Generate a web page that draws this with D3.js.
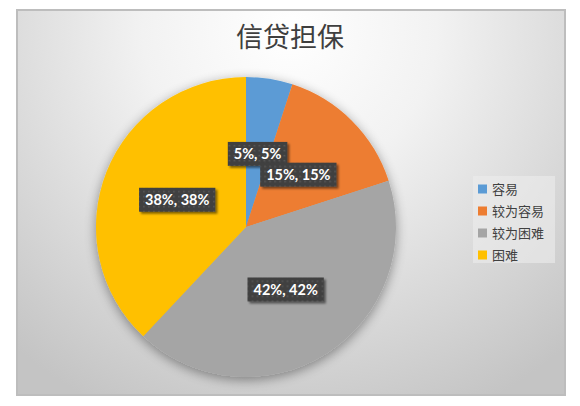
<!DOCTYPE html>
<html><head><meta charset="utf-8">
<script src="https://cdn.jsdelivr.net/npm/d3@7"></script>
<style>html,body{margin:0;padding:0;background:#fff;}svg{display:block;}</style>
</head><body>
<svg id="c" width="580" height="406"></svg>
<script>
const title = "信贷担保";
const categories = ["容易", "较为容易", "较为困难", "困难"];
const values = [5, 15, 42, 38];
const colors = ["#5B9BD5", "#ED7D31", "#A5A5A5", "#FFC000"];

const svg = d3.select("#c");
const defs = svg.append("defs");

const bg = defs.append("radialGradient").attr("id","bg")
  .attr("gradientUnits","userSpaceOnUse").attr("cx",290).attr("cy",30).attr("r",420);
bg.append("stop").attr("offset","0").attr("stop-color","#ffffff");
bg.append("stop").attr("offset","0.35").attr("stop-color","#f2f2f2");
bg.append("stop").attr("offset","1").attr("stop-color","#c4c4c4");

const pieSh = defs.append("filter").attr("id","pieSh").attr("x","-20%").attr("y","-20%").attr("width","140%").attr("height","140%");
pieSh.append("feGaussianBlur").attr("in","SourceAlpha").attr("stdDeviation",6).attr("result","b");
pieSh.append("feOffset").attr("in","b").attr("dx",0).attr("dy",3).attr("result","o");
pieSh.append("feComponentTransfer").attr("in","o").attr("result","o2")
  .append("feFuncA").attr("type","linear").attr("slope",0.4);
const pm = pieSh.append("feMerge");
pm.append("feMergeNode").attr("in","o2");
pm.append("feMergeNode").attr("in","SourceGraphic");

const lblSh = defs.append("filter").attr("id","lblSh").attr("x","-20%").attr("y","-30%").attr("width","150%").attr("height","180%");
lblSh.append("feGaussianBlur").attr("in","SourceAlpha").attr("stdDeviation",1.2).attr("result","b");
lblSh.append("feOffset").attr("in","b").attr("dx",2).attr("dy",2).attr("result","o");
lblSh.append("feComponentTransfer").attr("in","o").attr("result","o2")
  .append("feFuncA").attr("type","linear").attr("slope",0.5);
const lm = lblSh.append("feMerge");
lm.append("feMergeNode").attr("in","o2");
lm.append("feMergeNode").attr("in","SourceGraphic");

const pat = defs.append("pattern").attr("id","dots").attr("patternUnits","userSpaceOnUse")
  .attr("width",5).attr("height",5);
pat.append("rect").attr("width",5).attr("height",5).attr("fill","#404040");
pat.append("rect").attr("x",1).attr("y",1).attr("width",1.5).attr("height",1.5).attr("fill","#5a5a5a");

// frame
svg.append("rect").attr("x",17).attr("y",10).attr("width",548).attr("height",385)
  .attr("fill","url(#bg)").attr("stroke","#bdbdbd").attr("stroke-width",2);

// title
svg.append("text").attr("x",290).attr("y",47).attr("text-anchor","middle")
  .attr("font-family","'Noto Sans CJK SC', sans-serif").attr("font-size",27)
  .attr("fill","#3f3f3f").text(title);

// pie
const cx = 246, cy = 227, R = 150;
const data = categories.map((c,i)=>({cat:c, value:values[i], color:colors[i]}));
const pie = d3.pie().value(d=>d.value).sort(null);
const arcs = pie(data);
const arc = d3.arc().innerRadius(0).outerRadius(R);
const g = svg.append("g").attr("transform",`translate(${cx},${cy})`);
g.append("g").attr("filter","url(#pieSh)").selectAll("path").data(arcs).join("path")
  .attr("d",arc).attr("fill",d=>d.data.color);

const total = d3.sum(values);
const lblArc = d3.arc().innerRadius(74).outerRadius(74);
const lg = g.append("g");
arcs.forEach(a=>{
  const [x,y] = lblArc.centroid(a);
  const pct = Math.round(a.data.value/total*100) + "%";
  const grp = lg.append("g").attr("transform",`translate(${x},${y})`);
  const rect = grp.append("rect").attr("fill","url(#dots)").attr("filter","url(#lblSh)");
  const t = grp.append("text").attr("text-anchor","middle").attr("dy","0.36em")
    .attr("font-family","Lato, 'Open Sans', sans-serif").attr("font-weight","bold")
    .attr("font-size",14.5).attr("fill","#ffffff")
    .text(`${pct}, ${a.data.value}%`);
  const w = t.node().getComputedTextLength();
  rect.attr("x",-w/2-6).attr("y",-12).attr("width",w+12).attr("height",24);
});

// legend
const legX = 473, legY = 176;
svg.append("rect").attr("x",legX).attr("y",legY).attr("width",82).attr("height",87)
  .attr("fill","#ececec").attr("opacity",0.6);
const leg = svg.append("g");
data.forEach((d,i)=>{
  const y = 189 + i*22;
  leg.append("rect").attr("x",478).attr("y",y-4.5).attr("width",9).attr("height",9).attr("fill",d.color);
  leg.append("text").attr("x",492).attr("y",y).attr("dy","0.36em")
    .attr("font-family","'Noto Sans CJK SC', sans-serif").attr("font-size",13)
    .attr("fill","#404040").text(d.cat);
});
</script>
</body></html>
